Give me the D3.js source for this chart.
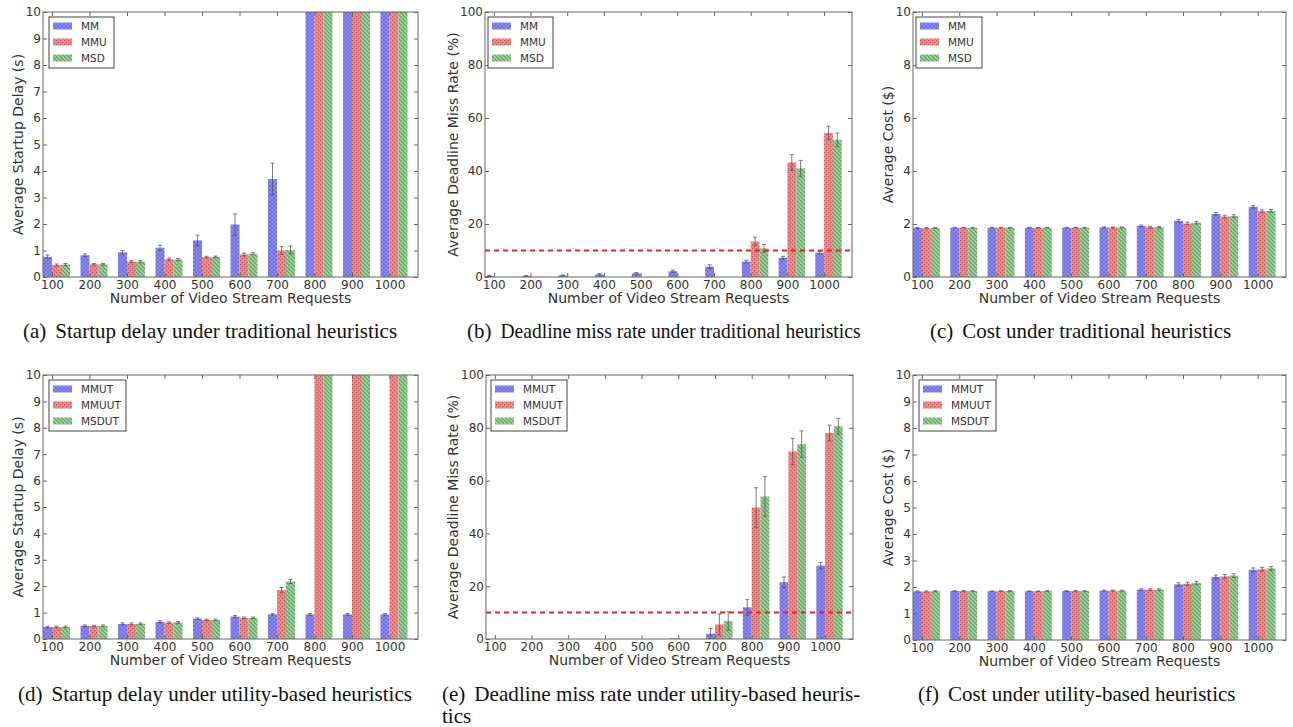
<!DOCTYPE html>
<html><head><meta charset="utf-8">
<script src="https://cdn.jsdelivr.net/npm/d3@7"></script>
<style>body{margin:0;background:#fff}svg{display:block}</style>
</head><body>
<svg id="c" width="1293" height="727"></svg>
<script>
// ---------------- data ----------------
const categories = ["100","200","300","400","500","600","700","800","900","1000"];
const seriesTrad = ["MM","MMU","MSD"];
const seriesUtil = ["MMUT","MMUUT","MSDUT"];

// (a) startup delay, traditional (values above 10 are clipped off the axis)
const delayTradMM  = [0.76,0.82,0.93,1.10,1.38,1.98,3.70,14,14,14];
const delayTradMMU = [0.45,0.48,0.58,0.67,0.75,0.85,1.00,14,14,14];
const delayTradMSD = [0.47,0.48,0.58,0.66,0.76,0.88,1.02,14,14,14];
const delayTradErrMM  = [0.07,0.05,0.07,0.10,0.20,0.40,0.60,0,0,0];
const delayTradErrMMU = [0.04,0.03,0.04,0.04,0.03,0.05,0.15,0,0,0];
const delayTradErrMSD = [0.04,0.03,0.04,0.04,0.03,0.04,0.15,0,0,0];

// (b) deadline miss rate, traditional
const missTradMM  = [0.4,0.4,0.6,1.0,1.4,2.2,3.9,5.8,7.3,9.2];
const missTradMMU = [0,0,0,0,0,0,0,13.4,43.2,54.4];
const missTradMSD = [0,0,0,0,0,0,0,10.8,41.0,51.8];
const missTradErrMM  = [0.2,0.2,0.2,0.3,0.3,0.4,0.7,0.5,0.5,0.5];
const missTradErrMMU = [0,0,0,0,0,0,0,1.6,3.0,2.5];
const missTradErrMSD = [0,0,0,0,0,0,0,1.5,3.0,2.5];

// (c) cost, traditional
const costTradMM  = [1.85,1.86,1.86,1.86,1.86,1.87,1.93,2.12,2.38,2.65];
const costTradMMU = [1.84,1.86,1.86,1.86,1.86,1.87,1.88,2.02,2.28,2.48];
const costTradMSD = [1.85,1.86,1.86,1.86,1.86,1.87,1.88,2.05,2.30,2.50];
const costTradErr = [0.02,0.01,0.01,0.01,0.01,0.02,0.03,0.05,0.05,0.05];

// (d) startup delay, utility-based
const delayUtilMMUT  = [0.45,0.50,0.57,0.65,0.77,0.85,0.93,0.93,0.93,0.93];
const delayUtilMMUUT = [0.45,0.49,0.57,0.62,0.72,0.80,1.85,14,14,14];
const delayUtilMSDUT = [0.46,0.50,0.58,0.63,0.72,0.80,2.18,14,14,14];
const delayUtilErrMMUT  = [0.03,0.03,0.04,0.04,0.03,0.04,0.03,0.03,0.03,0.03];
const delayUtilErrMMUUT = [0.03,0.03,0.04,0.03,0.03,0.03,0.10,0,0,0];
const delayUtilErrMSDUT = [0.03,0.03,0.03,0.03,0.03,0.03,0.08,0,0,0];

// (e) deadline miss rate, utility-based
const missUtilMMUT  = [0,0,0,0,0,0.2,2.0,12.0,21.5,27.8];
const missUtilMMUUT = [0,0,0,0,0,0,5.5,49.8,71.0,78.0];
const missUtilMSDUT = [0,0,0,0,0,0,6.8,54.0,73.8,80.6];
const missUtilErrMMUT  = [0,0,0,0,0,0,2.0,3.0,2.0,1.2];
const missUtilErrMMUUT = [0,0,0,0,0,0,4.0,7.5,5.0,3.0];
const missUtilErrMSDUT = [0,0,0,0,0,0,3.5,7.5,5.0,3.0];

// (f) cost, utility-based
const costUtilMMUT  = [1.83,1.85,1.84,1.84,1.85,1.86,1.90,2.10,2.38,2.65];
const costUtilMMUUT = [1.83,1.85,1.85,1.84,1.85,1.86,1.90,2.12,2.40,2.67];
const costUtilMSDUT = [1.84,1.85,1.85,1.85,1.85,1.86,1.90,2.15,2.43,2.70];
const costUtilErr   = [0.02,0.01,0.01,0.01,0.01,0.02,0.03,0.06,0.07,0.07];

const yTicksDelay = [0,1,2,3,4,5,6,7,8,9,10];
const yTicksMiss  = [0,20,40,60,80,100];
const yTicksCostA = [0,2,4,6,8,10];
const yTicksCostB = [0,1,2,3,4,5,6,7,8,9,10];
const deadlineThreshold = 10;

const captionLabels = ["(a)","(b)","(c)","(d)","(e)","(f)"];
const captions = [
  "Startup delay under traditional heuristics",
  "Deadline miss rate under traditional heuristics",
  "Cost under traditional heuristics",
  "Startup delay under utility-based heuristics",
  "Deadline miss rate under utility-based heuris-",
  "Cost under utility-based heuristics"
];
const captionCont = "tics";

// ---------------- layout ----------------
const panels = [
  {L:43, R:418, T:12, B:277, ymax:10, ticks:yTicksDelay, ylab:"Average Startup Delay (s)", ylx:18, names:seriesTrad,
   vals:[delayTradMM,delayTradMMU,delayTradMSD], errs:[delayTradErrMM,delayTradErrMMU,delayTradErrMSD],
   leg:{x:49,y:17,w:65,h:51}, cap:{x:23,y:338}},
  {L:485, R:852, T:12, B:277, ymax:100, ticks:yTicksMiss, ylab:"Average Deadline Miss Rate (%)", ylx:453, names:seriesTrad,
   vals:[missTradMM,missTradMMU,missTradMSD], errs:[missTradErrMM,missTradErrMMU,missTradErrMSD], line:true,
   leg:{x:488,y:17,w:65,h:51}, cap:{x:467,y:338,fit:360}},
  {L:913, R:1286, T:12, B:277, ymax:10, ticks:yTicksCostA, ylab:"Average Cost ($)", ylx:888, names:seriesTrad,
   vals:[costTradMM,costTradMMU,costTradMSD], errs:[costTradErr,costTradErr,costTradErr],
   leg:{x:916,y:17,w:66,h:51}, cap:{x:930,y:338}},
  {L:43, R:418, T:375, B:639, ymax:10, ticks:yTicksDelay, ylab:"Average Startup Delay (s)", ylx:18, names:seriesUtil,
   vals:[delayUtilMMUT,delayUtilMMUUT,delayUtilMSDUT], errs:[delayUtilErrMMUT,delayUtilErrMMUUT,delayUtilErrMSDUT],
   leg:{x:49,y:380,w:77,h:51}, cap:{x:18,y:701}},
  {L:486, R:853, T:375, B:639, ymax:100, ticks:yTicksMiss, ylab:"Average Deadline Miss Rate (%)", ylx:453, names:seriesUtil,
   vals:[missUtilMMUT,missUtilMMUUT,missUtilMSDUT], errs:[missUtilErrMMUT,missUtilErrMMUUT,missUtilErrMSDUT], line:true,
   leg:{x:491,y:380,w:76,h:51}, cap:{x:442,y:701,fit:386}},
  {L:913, R:1286, T:375, B:640, ymax:10, ticks:yTicksCostB, ylab:"Average Cost ($)", ylx:888, names:seriesUtil,
   vals:[costUtilMMUT,costUtilMMUUT,costUtilMSDUT], errs:[costUtilErr,costUtilErr,costUtilErr],
   leg:{x:919,y:380,w:77,h:51}, cap:{x:918,y:701}}
];

const svg = d3.select("#c");
const defs = svg.append("defs");

// hatch patterns
const fills = [
  {id:"pB", bg:"#8c8cf2", fg:"#6464dc", type:"x"},
  {id:"pR", bg:"#ee8c8c", fg:"#c85858", type:"dot"},
  {id:"pG", bg:"#a0d4a0", fg:"#5c9c5c", type:"diag"}
];
fills.forEach(f=>{
  const p = defs.append("pattern").attr("id",f.id).attr("patternUnits","userSpaceOnUse")
    .attr("width",4).attr("height",4);
  p.append("rect").attr("width",4).attr("height",4).attr("fill",f.bg);
  if(f.type==="x"){
    p.append("path").attr("d","M0,0L4,4M4,0L0,4").attr("stroke",f.fg).attr("stroke-width",0.7);
  } else if(f.type==="dot"){
    p.append("rect").attr("x",0).attr("y",0).attr("width",1.3).attr("height",1.3).attr("fill",f.fg);
    p.append("rect").attr("x",2).attr("y",2).attr("width",1.3).attr("height",1.3).attr("fill",f.fg);
  } else {
    p.append("path").attr("d","M-1,-1L5,5M-1,3L1,5M3,-1L5,1").attr("stroke",f.fg).attr("stroke-width",1.1);
  }
});
const fillUrl = ["url(#pB)","url(#pR)","url(#pG)"];

const W = 0.24;
const sans = "DejaVu Sans, Verdana, sans-serif";
const serif = "Liberation Serif, Times New Roman, serif";
const textCol = "#333";
const axisCol = "#666";
const capSize = 21;

panels.forEach((P,pi)=>{
  const x = d3.scaleLinear().domain([0,10]).range([P.L,P.R]);
  const y = d3.scaleLinear().domain([0,P.ymax]).range([P.B,P.T]);
  const g = svg.append("g");
  const cid = "clip"+pi;
  defs.append("clipPath").attr("id",cid).append("rect")
    .attr("x",P.L).attr("y",P.T).attr("width",P.R-P.L).attr("height",P.B-P.T);

  const plot = g.append("g").attr("clip-path",`url(#${cid})`);
  P.vals.forEach((arr,s)=>{
    plot.selectAll(null).data(arr).enter().append("rect")
      .attr("x",(d,i)=>x(i+s*W))
      .attr("width",x(W)-x(0))
      .attr("y",d=>y(Math.max(d,0)))
      .attr("height",d=>Math.max(0,y(0)-y(d)))
      .attr("fill",fillUrl[s]);
  });
  // error bars
  P.vals.forEach((arr,s)=>{
    const e = P.errs[s];
    arr.forEach((v,i)=>{
      if(!e[i]) return;
      const cx = x(i+s*W+W/2);
      const eg = plot.append("g").attr("stroke","#555").attr("stroke-width",0.9).attr("opacity",0.85);
      eg.append("line").attr("x1",cx).attr("x2",cx).attr("y1",y(v-e[i])).attr("y2",y(v+e[i]));
      eg.append("line").attr("x1",cx-2).attr("x2",cx+2).attr("y1",y(v+e[i])).attr("y2",y(v+e[i]));
      eg.append("line").attr("x1",cx-2).attr("x2",cx+2).attr("y1",y(v-e[i])).attr("y2",y(v-e[i]));
    });
  });
  if(P.line){
    g.append("line").attr("x1",P.L).attr("x2",P.R)
      .attr("y1",y(deadlineThreshold)).attr("y2",y(deadlineThreshold))
      .attr("stroke","#f02020").attr("stroke-width",2).attr("stroke-dasharray","5,4");
  }

  const tickVals = categories.map((c,i)=>i+W);
  const ax = (axis, tr) => {
    const a = g.append("g").attr("transform",tr).call(axis);
    a.select(".domain").remove();
    a.selectAll(".tick line").attr("stroke",axisCol);
    a.selectAll("text").attr("fill",textCol).style("font-family",sans).style("font-size","12px");
    return a;
  };
  ax(d3.axisBottom(x).tickValues(tickVals).tickFormat((d,i)=>categories[i]).tickSizeInner(-4).tickPadding(3),
     `translate(0,${P.B})`);
  ax(d3.axisTop(x).tickValues(tickVals).tickFormat("").tickSizeInner(-4), `translate(0,${P.T})`);
  ax(d3.axisLeft(y).tickValues(P.ticks).tickFormat(d3.format("d")).tickSizeInner(-4).tickPadding(2),
     `translate(${P.L},0)`);
  ax(d3.axisRight(y).tickValues(P.ticks).tickFormat("").tickSizeInner(-4), `translate(${P.R},0)`);

  g.append("rect").attr("x",P.L).attr("y",P.T).attr("width",P.R-P.L).attr("height",P.B-P.T)
    .attr("fill","none").attr("stroke",axisCol).attr("stroke-width",1);

  // axis titles
  g.append("text").attr("x",(P.L+P.R)/2).attr("y",P.B+26).attr("text-anchor","middle")
    .style("font-family",sans).style("font-size","14px").attr("fill",textCol)
    .text("Number of Video Stream Requests");
  g.append("text").attr("transform",`translate(${P.ylx},${(P.T+P.B)/2}) rotate(-90)`)
    .attr("text-anchor","middle").attr("dy","0.35em")
    .style("font-family",sans).style("font-size","14px").attr("fill",textCol).text(P.ylab);

  // legend
  const lg = g.append("g");
  lg.append("rect").attr("x",P.leg.x).attr("y",P.leg.y).attr("width",P.leg.w).attr("height",P.leg.h)
    .attr("fill","#fff").attr("stroke","#444").attr("stroke-width",1);
  P.names.forEach((n,s)=>{
    const yy = P.leg.y + 9 + s*16;
    lg.append("rect").attr("x",P.leg.x+4).attr("y",yy-3.5).attr("width",19).attr("height",7).attr("fill",fillUrl[s]);
    lg.append("text").attr("x",P.leg.x+32).attr("y",yy).attr("dy","0.35em")
      .style("font-family",sans).style("font-size","10.5px").attr("fill",textCol).text(n);
  });

  // caption
  const lab = svg.append("text").attr("x",P.cap.x).attr("y",P.cap.y)
    .style("font-family",serif).style("font-size",capSize+"px").attr("fill","#111").text(captionLabels[pi]);
  const lw = lab.node().getComputedTextLength();
  const main = svg.append("text").attr("x",P.cap.x+lw+9).attr("y",P.cap.y)
    .style("font-family",serif).style("font-size",capSize+"px").attr("fill","#111").text(captions[pi]);
  if(P.cap.fit){
    main.attr("textLength",P.cap.fit).attr("lengthAdjust","spacingAndGlyphs");
  }
  if(pi===4){
    svg.append("text").attr("x",P.cap.x).attr("y",P.cap.y+22)
      .style("font-family",serif).style("font-size",capSize+"px")
      .attr("fill","#111").text(captionCont);
  }
});
</script>
</body></html>
